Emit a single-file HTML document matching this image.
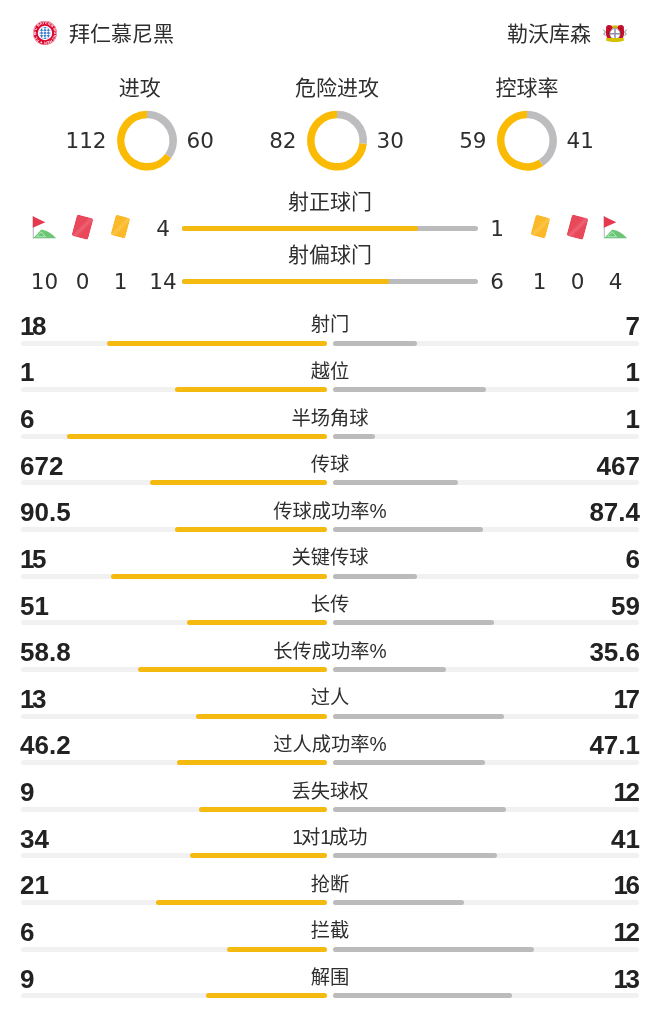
<!DOCTYPE html><html><head><meta charset="utf-8"><title>Stats</title><style>
*{margin:0;padding:0;box-sizing:border-box}
html,body{width:660px;height:1034px;background:#fff;overflow:hidden}
body{position:relative;will-change:transform;font-family:"Liberation Sans","Noto Sans CJK SC",sans-serif;color:#222}
.a{position:absolute;white-space:nowrap}
.cj{font-family:"Liberation Sans","Noto Sans CJK SC",sans-serif;color:#2e2e2e}
.dv{font-family:"DejaVu Sans","Noto Sans CJK SC",sans-serif;color:#2e2e2e}
.nb{font-family:"Liberation Sans",sans-serif;font-weight:bold;color:#222;font-size:26px;line-height:26px}
.lb{font-family:"Liberation Sans","Noto Sans CJK SC",sans-serif;font-size:19.3px;line-height:20px;color:#2e2e2e;width:200px;left:230px;text-align:center}
.tr{position:absolute;height:5px;border-radius:2.5px;background:#f1f1f1}
.y{position:absolute;height:5px;border-radius:2.5px;background:#F5BA10}
.g{position:absolute;height:5px;border-radius:2.5px;background:#BBBBBB}
</style></head><body>
<svg class="a" style="left:32.1px;top:20.1px" width="26" height="26" viewBox="0 0 26 26">
<defs>
<path id="bt" d="M4.1 13a8.9 8.9 0 1 1 17.8 0a8.9 8.9 0 1 1 -17.8 0"/></defs>
<circle cx="13" cy="13" r="11.9" fill="#DC052D"/>
<circle cx="13" cy="13" r="11.7" fill="none" stroke="#f5c8d0" stroke-width="0.5"/>
<text font-size="3.7" fill="#fff" font-family="Liberation Sans" font-weight="bold" letter-spacing="0.1"><textPath href="#bt">FC BAYERN MÜNCHEN ● FC BAYERN</textPath></text>
<circle cx="13" cy="13" r="7.2" fill="#fff"/>
<clipPath id="cc"><circle cx="13" cy="13" r="5.9"/></clipPath><g clip-path="url(#cc)"><rect x="6" y="6" width="14" height="14" fill="#fff"/><path fill="#3a7dcc" d="M-2.30 1.80L-0.60 0.40L1.10 1.80L-0.60 3.20zM1.10 1.80L2.80 0.40L4.50 1.80L2.80 3.20zM4.50 1.80L6.20 0.40L7.90 1.80L6.20 3.20zM7.90 1.80L9.60 0.40L11.30 1.80L9.60 3.20zM11.30 1.80L13.00 0.40L14.70 1.80L13.00 3.20zM14.70 1.80L16.40 0.40L18.10 1.80L16.40 3.20zM18.10 1.80L19.80 0.40L21.50 1.80L19.80 3.20zM21.50 1.80L23.20 0.40L24.90 1.80L23.20 3.20zM24.90 1.80L26.60 0.40L28.30 1.80L26.60 3.20zM-2.30 4.60L-0.60 3.20L1.10 4.60L-0.60 6.00zM1.10 4.60L2.80 3.20L4.50 4.60L2.80 6.00zM4.50 4.60L6.20 3.20L7.90 4.60L6.20 6.00zM7.90 4.60L9.60 3.20L11.30 4.60L9.60 6.00zM11.30 4.60L13.00 3.20L14.70 4.60L13.00 6.00zM14.70 4.60L16.40 3.20L18.10 4.60L16.40 6.00zM18.10 4.60L19.80 3.20L21.50 4.60L19.80 6.00zM21.50 4.60L23.20 3.20L24.90 4.60L23.20 6.00zM24.90 4.60L26.60 3.20L28.30 4.60L26.60 6.00zM-2.30 7.40L-0.60 6.00L1.10 7.40L-0.60 8.80zM1.10 7.40L2.80 6.00L4.50 7.40L2.80 8.80zM4.50 7.40L6.20 6.00L7.90 7.40L6.20 8.80zM7.90 7.40L9.60 6.00L11.30 7.40L9.60 8.80zM11.30 7.40L13.00 6.00L14.70 7.40L13.00 8.80zM14.70 7.40L16.40 6.00L18.10 7.40L16.40 8.80zM18.10 7.40L19.80 6.00L21.50 7.40L19.80 8.80zM21.50 7.40L23.20 6.00L24.90 7.40L23.20 8.80zM24.90 7.40L26.60 6.00L28.30 7.40L26.60 8.80zM-2.30 10.20L-0.60 8.80L1.10 10.20L-0.60 11.60zM1.10 10.20L2.80 8.80L4.50 10.20L2.80 11.60zM4.50 10.20L6.20 8.80L7.90 10.20L6.20 11.60zM7.90 10.20L9.60 8.80L11.30 10.20L9.60 11.60zM11.30 10.20L13.00 8.80L14.70 10.20L13.00 11.60zM14.70 10.20L16.40 8.80L18.10 10.20L16.40 11.60zM18.10 10.20L19.80 8.80L21.50 10.20L19.80 11.60zM21.50 10.20L23.20 8.80L24.90 10.20L23.20 11.60zM24.90 10.20L26.60 8.80L28.30 10.20L26.60 11.60zM-2.30 13.00L-0.60 11.60L1.10 13.00L-0.60 14.40zM1.10 13.00L2.80 11.60L4.50 13.00L2.80 14.40zM4.50 13.00L6.20 11.60L7.90 13.00L6.20 14.40zM7.90 13.00L9.60 11.60L11.30 13.00L9.60 14.40zM11.30 13.00L13.00 11.60L14.70 13.00L13.00 14.40zM14.70 13.00L16.40 11.60L18.10 13.00L16.40 14.40zM18.10 13.00L19.80 11.60L21.50 13.00L19.80 14.40zM21.50 13.00L23.20 11.60L24.90 13.00L23.20 14.40zM24.90 13.00L26.60 11.60L28.30 13.00L26.60 14.40zM-2.30 15.80L-0.60 14.40L1.10 15.80L-0.60 17.20zM1.10 15.80L2.80 14.40L4.50 15.80L2.80 17.20zM4.50 15.80L6.20 14.40L7.90 15.80L6.20 17.20zM7.90 15.80L9.60 14.40L11.30 15.80L9.60 17.20zM11.30 15.80L13.00 14.40L14.70 15.80L13.00 17.20zM14.70 15.80L16.40 14.40L18.10 15.80L16.40 17.20zM18.10 15.80L19.80 14.40L21.50 15.80L19.80 17.20zM21.50 15.80L23.20 14.40L24.90 15.80L23.20 17.20zM24.90 15.80L26.60 14.40L28.30 15.80L26.60 17.20zM-2.30 18.60L-0.60 17.20L1.10 18.60L-0.60 20.00zM1.10 18.60L2.80 17.20L4.50 18.60L2.80 20.00zM4.50 18.60L6.20 17.20L7.90 18.60L6.20 20.00zM7.90 18.60L9.60 17.20L11.30 18.60L9.60 20.00zM11.30 18.60L13.00 17.20L14.70 18.60L13.00 20.00zM14.70 18.60L16.40 17.20L18.10 18.60L16.40 20.00zM18.10 18.60L19.80 17.20L21.50 18.60L19.80 20.00zM21.50 18.60L23.20 17.20L24.90 18.60L23.20 20.00zM24.90 18.60L26.60 17.20L28.30 18.60L26.60 20.00zM-2.30 21.40L-0.60 20.00L1.10 21.40L-0.60 22.80zM1.10 21.40L2.80 20.00L4.50 21.40L2.80 22.80zM4.50 21.40L6.20 20.00L7.90 21.40L6.20 22.80zM7.90 21.40L9.60 20.00L11.30 21.40L9.60 22.80zM11.30 21.40L13.00 20.00L14.70 21.40L13.00 22.80zM14.70 21.40L16.40 20.00L18.10 21.40L16.40 22.80zM18.10 21.40L19.80 20.00L21.50 21.40L19.80 22.80zM21.50 21.40L23.20 20.00L24.90 21.40L23.20 22.80zM24.90 21.40L26.60 20.00L28.30 21.40L26.60 22.80zM-2.30 24.20L-0.60 22.80L1.10 24.20L-0.60 25.60zM1.10 24.20L2.80 22.80L4.50 24.20L2.80 25.60zM4.50 24.20L6.20 22.80L7.90 24.20L6.20 25.60zM7.90 24.20L9.60 22.80L11.30 24.20L9.60 25.60zM11.30 24.20L13.00 22.80L14.70 24.20L13.00 25.60zM14.70 24.20L16.40 22.80L18.10 24.20L16.40 25.60zM18.10 24.20L19.80 22.80L21.50 24.20L19.80 25.60zM21.50 24.20L23.20 22.80L24.90 24.20L23.20 25.60zM24.90 24.20L26.60 22.80L28.30 24.20L26.60 25.60z"/></g>
</svg>
<div class="a cj" style="left:69px;top:21.5px;font-size:21px;line-height:24px">拜仁慕尼黑</div>
<div class="a cj" style="right:69px;top:21.5px;font-size:21px;line-height:24px">勒沃库森</div>
<svg class="a" style="left:602px;top:23px" width="26" height="21" viewBox="0 0 26 21">
<path d="M1.2 6.5l2.2 2.5-1.8 2.2 2 1.2M24.8 6.5l-2.2 2.5 1.8 2.2-2 1.2" stroke="#8d8795" stroke-width="1" fill="none"/>
<path d="M4.2 3.5C5 1.8 7.5 1.4 9.5 2.5L11 4.5 9 8 8.5 13.5 10 15.5 5.5 15.5C4 13 3.5 10 4 7z" fill="#C8102E"/>
<path d="M21.8 3.5C21 1.8 18.5 1.4 16.5 2.5L15 4.5 17 8 17.5 13.5 16 15.5 20.5 15.5C22 13 22.5 10 22 7z" fill="#C8102E"/>
<path d="M6 5l2 1.5M6 9.5l1.5 2M20 5l-2 1.5M20 9.5l-1.5 2" stroke="#7a0a1a" stroke-width="0.8"/>
<path d="M10.4 2.6h5.2l-0.5 2.8h-4.2z" fill="#C9B800"/>
<circle cx="13" cy="10.8" r="5.3" fill="#fff" stroke="#6d6d6d" stroke-width="0.6"/>
<path d="M13 5.8v10M8 10.8h10" stroke="#8f8fae" stroke-width="1.5"/>
<path d="M4.2 15h17.6v2.8c-5 1.6-12.6 1.6-17.6 0z" fill="#D4C200"/>
</svg>
<svg class="a" style="left:0;top:0" width="660" height="180" viewBox="0 0 660 180"><path d="M168.31 155.84 A26.2 26.2 0 1 1 147.00 114.40" fill="none" stroke="#FBBA04" stroke-width="7.5"/><path d="M147.00 114.40 A26.2 26.2 0 0 1 168.31 155.84" fill="none" stroke="#BDBDBF" stroke-width="7.5"/><path d="M363.04 143.53 A26.2 26.2 0 1 1 337.00 114.40" fill="none" stroke="#FBBA04" stroke-width="7.5"/><path d="M337.00 114.40 A26.2 26.2 0 0 1 363.04 143.53" fill="none" stroke="#BDBDBF" stroke-width="7.5"/><path d="M541.04 162.72 A26.2 26.2 0 1 1 527.00 114.40" fill="none" stroke="#FBBA04" stroke-width="7.5"/><path d="M527.00 114.40 A26.2 26.2 0 0 1 541.04 162.72" fill="none" stroke="#BDBDBF" stroke-width="7.5"/></svg>
<div class="a cj" style="left:39.69999999999999px;width:200px;text-align:center;top:76px;font-size:21px;line-height:24px">进攻</div>
<div class="a dv" style="right:553.5px;top:129px;font-size:21.5px;line-height:24px">112</div>
<div class="a dv" style="left:186.5px;top:129px;font-size:21.5px;line-height:24px">60</div>
<div class="a cj" style="left:237px;width:200px;text-align:center;top:76px;font-size:21px;line-height:24px">危险进攻</div>
<div class="a dv" style="right:363.5px;top:129px;font-size:21.5px;line-height:24px">82</div>
<div class="a dv" style="left:376.5px;top:129px;font-size:21.5px;line-height:24px">30</div>
<div class="a cj" style="left:427px;width:200px;text-align:center;top:76px;font-size:21px;line-height:24px">控球率</div>
<div class="a dv" style="right:173.5px;top:129px;font-size:21.5px;line-height:24px">59</div>
<div class="a dv" style="left:566.5px;top:129px;font-size:21.5px;line-height:24px">41</div>
<div class="a cj" style="left:230px;width:200px;text-align:center;top:190px;font-size:21px;line-height:24px">射正球门</div>
<div class="a cj" style="left:230px;width:200px;text-align:center;top:243px;font-size:21px;line-height:24px">射偏球门</div>
<div class="a" style="left:182px;top:226.2px;width:295.5px;height:5px;border-radius:2.5px;background:#BBBBBB"></div>
<div class="a" style="left:182px;top:226.2px;width:236.4px;height:5px;border-radius:2.5px;background:#F5BA10"></div>
<div class="a" style="left:182px;top:278.9px;width:295.5px;height:5px;border-radius:2.5px;background:#BBBBBB"></div>
<div class="a" style="left:182px;top:278.9px;width:206.8px;height:5px;border-radius:2.5px;background:#F5BA10"></div>
<svg class="a" style="left:32.2px;top:214.8px" width="25" height="24" viewBox="0 0 25 24"><path d="M1.3 1v22" stroke="#b4bcc4" stroke-width="1.1"/><path d="M0.8 1.2L13.3 7.3 0.8 12.8z" fill="#E6394F"/><path d="M1.5 22.9L9.3 14.6C14 15.5 20 18.5 23.6 22.9z" fill="#6BC574"/><path d="M4.5 21.8L9.4 16.8 13.5 21.8z" fill="none" stroke="#b9f2c2" stroke-width="0.9"/><path d="M1 22.9h22.6" stroke="#7cbf86" stroke-width="0.8"/></svg>
<div class="a" style="left:74.2px;top:216px;width:16.5px;height:22px;border-radius:2.5px;background:#E8485A;transform:rotate(15deg);background-image:linear-gradient(120deg,transparent 40%,#ee6274 52%,transparent 65%)"></div>
<div class="a" style="left:113.3px;top:216.3px;width:14.6px;height:20.6px;border-radius:2.5px;background:#FBB829;transform:rotate(15deg);background-image:linear-gradient(120deg,transparent 40%,#fcc64a 52%,transparent 65%)"></div>
<div class="a" style="left:532.5px;top:216.3px;width:14.6px;height:20.6px;border-radius:2.5px;background:#FBB829;transform:rotate(15deg);background-image:linear-gradient(120deg,transparent 40%,#fcc64a 52%,transparent 65%)"></div>
<div class="a" style="left:569.2px;top:216px;width:16.5px;height:22px;border-radius:2.5px;background:#E8485A;transform:rotate(15deg);background-image:linear-gradient(120deg,transparent 40%,#ee6274 52%,transparent 65%)"></div>
<svg class="a" style="left:603px;top:214.8px" width="25" height="24" viewBox="0 0 25 24"><path d="M1.3 1v22" stroke="#b4bcc4" stroke-width="1.1"/><path d="M0.8 1.2L13.3 7.3 0.8 12.8z" fill="#E6394F"/><path d="M1.5 22.9L9.3 14.6C14 15.5 20 18.5 23.6 22.9z" fill="#6BC574"/><path d="M4.5 21.8L9.4 16.8 13.5 21.8z" fill="none" stroke="#b9f2c2" stroke-width="0.9"/><path d="M1 22.9h22.6" stroke="#7cbf86" stroke-width="0.8"/></svg>
<div class="a dv" style="left:123px;width:80px;text-align:center;top:217px;font-size:21.5px;line-height:24px">4</div>
<div class="a dv" style="left:457px;width:80px;text-align:center;top:217px;font-size:21.5px;line-height:24px">1</div>
<div class="a dv" style="left:4.5px;width:80px;text-align:center;top:270px;font-size:21.5px;line-height:24px">10</div>
<div class="a dv" style="left:42.5px;width:80px;text-align:center;top:270px;font-size:21.5px;line-height:24px">0</div>
<div class="a dv" style="left:80.5px;width:80px;text-align:center;top:270px;font-size:21.5px;line-height:24px">1</div>
<div class="a dv" style="left:123px;width:80px;text-align:center;top:270px;font-size:21.5px;line-height:24px">14</div>
<div class="a dv" style="left:457px;width:80px;text-align:center;top:270px;font-size:21.5px;line-height:24px">6</div>
<div class="a dv" style="left:499.5px;width:80px;text-align:center;top:270px;font-size:21.5px;line-height:24px">1</div>
<div class="a dv" style="left:537.5px;width:80px;text-align:center;top:270px;font-size:21.5px;line-height:24px">0</div>
<div class="a dv" style="left:575.5px;width:80px;text-align:center;top:270px;font-size:21.5px;line-height:24px">4</div>
<div class="tr" style="left:21px;top:340.50px;width:306px"></div>
<div class="tr" style="left:333px;top:340.50px;width:306px"></div>
<div class="y" style="left:106.7px;top:340.50px;width:220.3px"></div>
<div class="g" style="left:333px;top:340.50px;width:84.3px"></div>
<div class="a nb" style="left:20px;top:312.80px"><span style="letter-spacing:-2.5px">1</span>8</div>
<div class="a nb" style="right:20px;top:312.80px">7</div>
<div class="a lb" style="top:315.30px">射门</div>
<div class="tr" style="left:21px;top:387.13px;width:306px"></div>
<div class="tr" style="left:333px;top:387.13px;width:306px"></div>
<div class="y" style="left:174.5px;top:387.13px;width:152.5px"></div>
<div class="g" style="left:333px;top:387.13px;width:152.7px"></div>
<div class="a nb" style="left:20px;top:359.43px">1</div>
<div class="a nb" style="right:20px;top:359.43px">1</div>
<div class="a lb" style="top:361.93px">越位</div>
<div class="tr" style="left:21px;top:433.76px;width:306px"></div>
<div class="tr" style="left:333px;top:433.76px;width:306px"></div>
<div class="y" style="left:67.2px;top:433.76px;width:259.8px"></div>
<div class="g" style="left:333px;top:433.76px;width:42.3px"></div>
<div class="a nb" style="left:20px;top:406.06px">6</div>
<div class="a nb" style="right:20px;top:406.06px">1</div>
<div class="a lb" style="top:408.56px">半场角球</div>
<div class="tr" style="left:21px;top:480.39px;width:306px"></div>
<div class="tr" style="left:333px;top:480.39px;width:306px"></div>
<div class="y" style="left:149.7px;top:480.39px;width:177.3px"></div>
<div class="g" style="left:333px;top:480.39px;width:125.3px"></div>
<div class="a nb" style="left:20px;top:452.69px">672</div>
<div class="a nb" style="right:20px;top:452.69px">467</div>
<div class="a lb" style="top:455.19px">传球</div>
<div class="tr" style="left:21px;top:527.02px;width:306px"></div>
<div class="tr" style="left:333px;top:527.02px;width:306px"></div>
<div class="y" style="left:174.7px;top:527.02px;width:152.3px"></div>
<div class="g" style="left:333px;top:527.02px;width:149.7px"></div>
<div class="a nb" style="left:20px;top:499.32px">90.5</div>
<div class="a nb" style="right:20px;top:499.32px">87.4</div>
<div class="a lb" style="top:501.82px">传球成功率%</div>
<div class="tr" style="left:21px;top:573.65px;width:306px"></div>
<div class="tr" style="left:333px;top:573.65px;width:306px"></div>
<div class="y" style="left:110.7px;top:573.65px;width:216.3px"></div>
<div class="g" style="left:333px;top:573.65px;width:84.3px"></div>
<div class="a nb" style="left:20px;top:545.95px"><span style="letter-spacing:-2.5px">1</span>5</div>
<div class="a nb" style="right:20px;top:545.95px">6</div>
<div class="a lb" style="top:548.45px">关键传球</div>
<div class="tr" style="left:21px;top:620.28px;width:306px"></div>
<div class="tr" style="left:333px;top:620.28px;width:306px"></div>
<div class="y" style="left:187px;top:620.28px;width:140.0px"></div>
<div class="g" style="left:333px;top:620.28px;width:161.3px"></div>
<div class="a nb" style="left:20px;top:592.58px">51</div>
<div class="a nb" style="right:20px;top:592.58px">59</div>
<div class="a lb" style="top:595.08px">长传</div>
<div class="tr" style="left:21px;top:666.91px;width:306px"></div>
<div class="tr" style="left:333px;top:666.91px;width:306px"></div>
<div class="y" style="left:138px;top:666.91px;width:189.0px"></div>
<div class="g" style="left:333px;top:666.91px;width:112.7px"></div>
<div class="a nb" style="left:20px;top:639.21px">58.8</div>
<div class="a nb" style="right:20px;top:639.21px">35.6</div>
<div class="a lb" style="top:641.71px">长传成功率%</div>
<div class="tr" style="left:21px;top:713.54px;width:306px"></div>
<div class="tr" style="left:333px;top:713.54px;width:306px"></div>
<div class="y" style="left:195.7px;top:713.54px;width:131.3px"></div>
<div class="g" style="left:333px;top:713.54px;width:171.0px"></div>
<div class="a nb" style="left:20px;top:685.84px"><span style="letter-spacing:-2.5px">1</span>3</div>
<div class="a nb" style="right:20px;top:685.84px"><span style="letter-spacing:-2.5px">1</span>7</div>
<div class="a lb" style="top:688.34px">过人</div>
<div class="tr" style="left:21px;top:760.17px;width:306px"></div>
<div class="tr" style="left:333px;top:760.17px;width:306px"></div>
<div class="y" style="left:177.3px;top:760.17px;width:149.7px"></div>
<div class="g" style="left:333px;top:760.17px;width:152.3px"></div>
<div class="a nb" style="left:20px;top:732.47px">46.2</div>
<div class="a nb" style="right:20px;top:732.47px">47.1</div>
<div class="a lb" style="top:734.97px">过人成功率%</div>
<div class="tr" style="left:21px;top:806.80px;width:306px"></div>
<div class="tr" style="left:333px;top:806.80px;width:306px"></div>
<div class="y" style="left:199.3px;top:806.80px;width:127.7px"></div>
<div class="g" style="left:333px;top:806.80px;width:173.3px"></div>
<div class="a nb" style="left:20px;top:779.10px">9</div>
<div class="a nb" style="right:20px;top:779.10px"><span style="letter-spacing:-2.5px">1</span>2</div>
<div class="a lb" style="top:781.60px">丢失球权</div>
<div class="tr" style="left:21px;top:853.43px;width:306px"></div>
<div class="tr" style="left:333px;top:853.43px;width:306px"></div>
<div class="y" style="left:189.7px;top:853.43px;width:137.3px"></div>
<div class="g" style="left:333px;top:853.43px;width:164.3px"></div>
<div class="a nb" style="left:20px;top:825.73px">34</div>
<div class="a nb" style="right:20px;top:825.73px">41</div>
<div class="a lb" style="top:828.23px"><span style="letter-spacing:-2px">1</span>对<span style="letter-spacing:-2px">1</span>成功</div>
<div class="tr" style="left:21px;top:900.06px;width:306px"></div>
<div class="tr" style="left:333px;top:900.06px;width:306px"></div>
<div class="y" style="left:156px;top:900.06px;width:171.0px"></div>
<div class="g" style="left:333px;top:900.06px;width:131.0px"></div>
<div class="a nb" style="left:20px;top:872.36px">21</div>
<div class="a nb" style="right:20px;top:872.36px"><span style="letter-spacing:-2.5px">1</span>6</div>
<div class="a lb" style="top:874.86px">抢断</div>
<div class="tr" style="left:21px;top:946.69px;width:306px"></div>
<div class="tr" style="left:333px;top:946.69px;width:306px"></div>
<div class="y" style="left:226.7px;top:946.69px;width:100.3px"></div>
<div class="g" style="left:333px;top:946.69px;width:201.3px"></div>
<div class="a nb" style="left:20px;top:918.99px">6</div>
<div class="a nb" style="right:20px;top:918.99px"><span style="letter-spacing:-2.5px">1</span>2</div>
<div class="a lb" style="top:921.49px">拦截</div>
<div class="tr" style="left:21px;top:993.32px;width:306px"></div>
<div class="tr" style="left:333px;top:993.32px;width:306px"></div>
<div class="y" style="left:205.7px;top:993.32px;width:121.3px"></div>
<div class="g" style="left:333px;top:993.32px;width:179.3px"></div>
<div class="a nb" style="left:20px;top:965.62px">9</div>
<div class="a nb" style="right:20px;top:965.62px"><span style="letter-spacing:-2.5px">1</span>3</div>
<div class="a lb" style="top:968.12px">解围</div>
</body></html>
